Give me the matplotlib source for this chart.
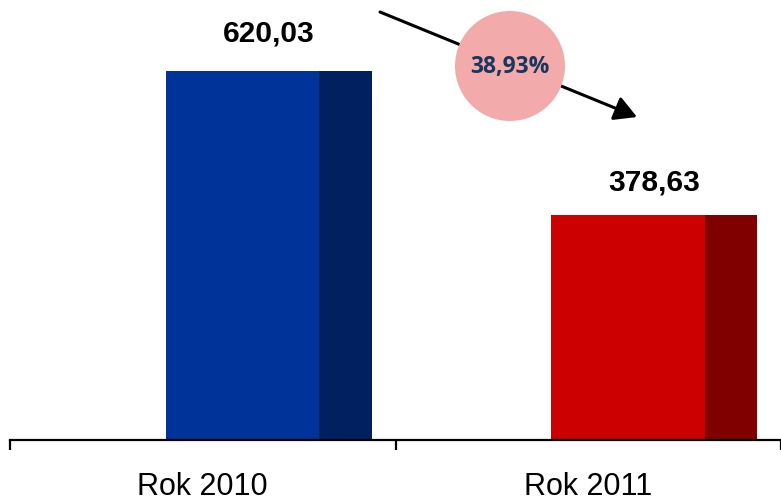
import matplotlib

matplotlib.use("Agg")
import matplotlib.pyplot as plt  # noqa: E402
from matplotlib.patches import Ellipse, FancyArrowPatch  # noqa: E402

categories = ["Rok 2010", "Rok 2011"]
values = [620.03, 378.63]
value_labels = ["620,03", "378,63"]
change_label = "38,93%"

front_colors = ["#003399", "#CC0000"]
side_colors = ["#002060", "#800000"]

W, H = 781, 499
fig = plt.figure(figsize=(W / 100, H / 100), dpi=100)
fig.patch.set_facecolor("white")

# baseline sits 59 px above the bottom edge, axes runs to the top of the figure
ax = fig.add_axes([10 / W, 59 / H, 771 / W, 440 / H])
ax.set_xlim(-0.5, -0.5 + 771 / 389)
ax.set_ylim(0, 739.3)

x = list(range(len(categories)))
front_w = 0.398
side_w = 0.136
shift = -0.096
front_left = [i + shift for i in x]
side_left = [f + front_w for f in front_left]

ax.bar(front_left, values, width=front_w, align="edge", color=front_colors, linewidth=0)
ax.bar(side_left, values, width=side_w, align="edge", color=side_colors, linewidth=0)

label_offsets = [17, 13]
for left, v, txt, off in zip(front_left, values, value_labels, label_offsets):
    cx = left + (front_w + side_w) / 2
    ax.annotate(txt, (cx, v), xytext=(0, off), textcoords="offset points",
                ha="center", va="bottom", fontsize=21.5, fontweight="bold",
                family="Liberation Sans", color="black")

for s in ["top", "right", "left"]:
    ax.spines[s].set_visible(False)
ax.spines["bottom"].set_linewidth(1.6)
ax.set_yticks([])

ax.set_xticks(x)
ax.set_xticklabels(categories, fontsize=22, family="Liberation Sans")
ax.tick_params(axis="x", which="major", length=0, pad=23)
ax.set_xticks([-0.5, 0.5, 1.5], minor=True)
ax.tick_params(axis="x", which="minor", length=7, width=1.6, direction="out")


def fpx(px, py):
    return px / W, 1 - py / H


arrow = FancyArrowPatch(fpx(380, 12), fpx(637, 117), transform=fig.transFigure,
                        arrowstyle="-|>,head_length=0.9,head_width=0.5",
                        mutation_scale=15, color="black", linewidth=2.2,
                        shrinkA=0, shrinkB=0)
fig.patches.append(arrow)

circle = Ellipse(fpx(510, 66), 110 / W, 110 / H, transform=fig.transFigure,
                 facecolor="#F2AAAA", edgecolor="none")
fig.patches.append(circle)

cx, cy = fpx(510, 67)
fig.text(cx, cy, change_label, ha="center", va="center", fontsize=16.5,
         fontweight="bold", family="Open Sans", color="#17375E")

fig.savefig("out.png", dpi=100)
